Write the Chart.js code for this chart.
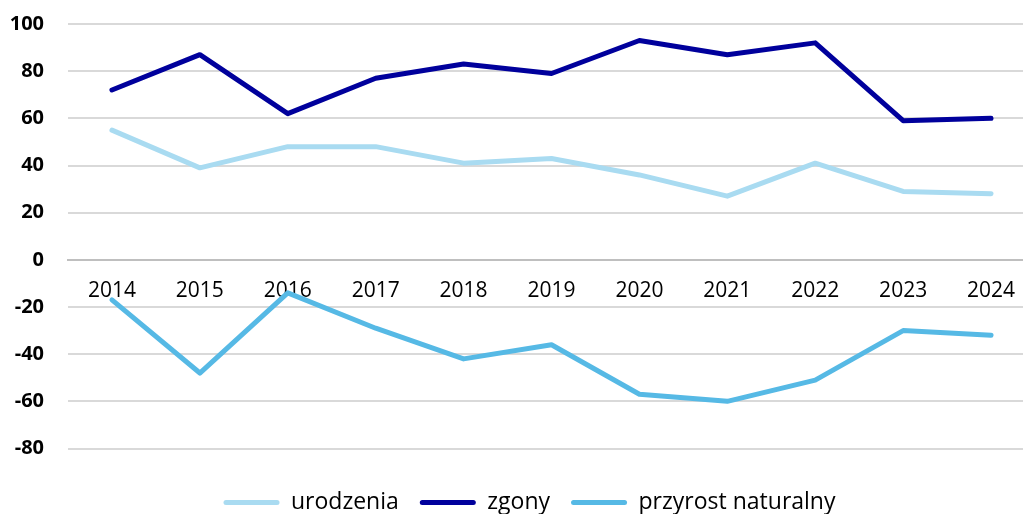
<!DOCTYPE html>
<html>
<head>
<meta charset="utf-8">
<script src="https://cdn.jsdelivr.net/npm/chart.js@4.4.1/dist/chart.umd.min.js"></script>
<style>
html, body { margin:0; padding:0; overflow:hidden; background:#fff; width:1023px; height:514px; }
#wrap { position:absolute; left:0; top:0; width:1059px; height:524px; }
</style>
</head>
<body>
<div id="wrap"><canvas id="c" width="1059" height="524"></canvas></div>
<script>
const categories = ['2014','2015','2016','2017','2018','2019','2020','2021','2022','2023','2024'];
const urodzenia = [55, 39, 48, 48, 41, 43, 36, 27, 41, 29, 28];
const zgony = [72, 87, 62, 77, 83, 79, 93, 87, 92, 59, 60];
const przyrost = [-17, -48, -14, -29, -42, -36, -57, -60, -51, -30, -32];
const seriesNames = ['urodzenia', 'zgony', 'przyrost naturalny'];
const colors = ['#A9DBF1', '#00009C', '#56B9E5'];

const FONT = '"Open Sans", "Noto Sans", sans-serif';

function ds(label, data, color) {
  return {
    label, data,
    borderColor: color, backgroundColor: color,
    borderWidth: 5, pointRadius: 0, pointHoverRadius: 0,
    tension: 0, borderCapStyle: 'round', borderJoinStyle: 'round',
    fill: false, clip: false, yAxisID: 'y'
  };
}

new Chart(document.getElementById('c'), {
  type: 'line',
  data: {
    labels: categories,
    datasets: [
      ds(seriesNames[0], urodzenia, colors[0]),
      ds(seriesNames[1], zgony, colors[1]),
      ds(seriesNames[2], przyrost, colors[2])
    ]
  },
  options: {
    responsive: false,
    devicePixelRatio: 1,
    animation: false,
    layout: { padding: { top: 0, right: 0, left: 0, bottom: 0 } },
    plugins: {
      tooltip: { enabled: false },
      title: {
        display: true, text: '', position: 'bottom', weight: 500,
        font: { size: 1, lineHeight: 1 }, padding: { top: 20.5, bottom: 0 }
      },
      legend: {
        position: 'bottom',
        labels: {
          font: { family: FONT, size: 23 },
          color: '#000',
          boxWidth: 56,
          boxHeight: 5,
          padding: 21,
          useBorderRadius: true,
          borderRadius: 2.5,
          generateLabels: (chart) => chart.data.datasets.map((d, i) => ({
            text: d.label, fillStyle: d.borderColor, strokeStyle: d.borderColor,
            lineWidth: 0, hidden: false, datasetIndex: i, borderRadius: 2.5, fontColor: '#000'
          }))
        }
      }
    },
    scales: {
      x: {
        position: { y: 0 },
        offset: true,
        grid: { display: false, drawTicks: false },
        border: { display: true, color: '#BFBFBF', width: 2 },
        ticks: { color: '#000', font: { family: FONT, size: 21 }, padding: 19, maxRotation: 0, autoSkip: false }
      },
      y: {
        position: 'left',
        min: -80, max: 100,
        afterFit: (s) => { s.width = 68; s.paddingTop = 24; s.paddingBottom = 0; },
        grid: { color: '#D9D9D9', lineWidth: 2, drawTicks: false },
        border: { display: false },
        ticks: { stepSize: 20, color: '#000', font: { family: FONT, size: 20, weight: 'bold' }, padding: 24 }
      },
      y2: {
        position: 'right',
        min: -80, max: 100,
        afterFit: (s) => { s.width = 24; s.paddingTop = 0; s.paddingBottom = 0; },
        grid: { display: false, drawTicks: false },
        border: { display: false },
        ticks: { display: false }
      }
    }
  }
});
</script>
</body>
</html>
